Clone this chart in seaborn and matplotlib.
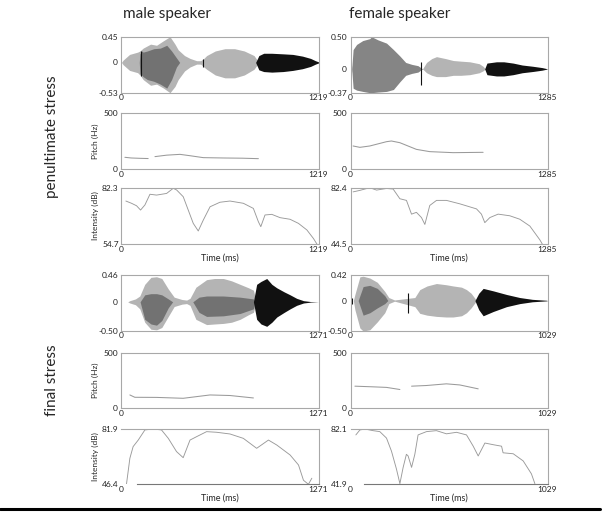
import matplotlib
matplotlib.use("Agg")
import matplotlib.pyplot as plt
import pandas as pd
import seaborn as sns
from matplotlib.lines import Line2D

sns.set_style("white")
plt.rcParams['font.family'] = ['Lato', 'DejaVu Sans']

# ---------------- data ----------------
# durations (ms)
mp_dur, fp_dur, mf_dur, ff_dur = 1219, 1285, 1271, 1029

# waveform y ranges / labels
mp_wave_ticks = [-0.53, 0, 0.45]
mp_wave_labels = ['-0.53', '0', '0.45']
fp_wave_ticks = [-0.37, 0, 0.50]
fp_wave_labels = ['-0.37', '0', '0.50']
mf_wave_ticks = [-0.50, 0, 0.46]
mf_wave_labels = ['-0.50', '0', '0.46']
ff_wave_ticks = [-0.50, 0, 0.42]
ff_wave_labels = ['-0.50', '0', '0.42']

# intensity ranges (dB)
mp_int_range = [54.7, 82.3]
fp_int_range = [44.5, 82.4]
mf_int_range = [46.4, 81.9]
ff_int_range = [41.9, 82.1]

# --- male speaker, penultimate stress: waveform envelopes
mp_light_t = [0, 10, 50, 100, 114, 134, 180, 217, 260, 300, 331, 351, 390, 424, 465, 490, 506, 527, 580, 640, 700, 760, 820, 850]
mp_light_hi = [0, 0.04, 0.14, 0.18, 0.2, 0.25, 0.32, 0.3, 0.38, 0.45, 0.32, 0.22, 0.12, 0.07, 0.03, 0.03, 0.06, 0.12, 0.2, 0.24, 0.24, 0.2, 0.12, 0]
mp_light_lo = [0, -0.04, -0.14, -0.18, -0.22, -0.3, -0.4, -0.38, -0.45, -0.53, -0.42, -0.3, -0.15, -0.08, -0.03, -0.03, -0.07, -0.12, -0.22, -0.27, -0.27, -0.22, -0.12, 0]
mp_dark_t = [110, 114, 125, 134, 160, 200, 240, 280, 310, 340, 360]
mp_dark_hi = [0, 0.15, 0.2, 0.18, 0.2, 0.24, 0.25, 0.3, 0.2, 0.08, 0]
mp_dark_lo = [0, -0.2, -0.22, -0.25, -0.3, -0.33, -0.38, -0.45, -0.3, -0.08, 0]
mp_black_t = [830, 850, 880, 930, 1000, 1060, 1120, 1170, 1200, 1219]
mp_black_hi = [0, 0.12, 0.16, 0.16, 0.15, 0.14, 0.11, 0.07, 0.03, 0.01]
mp_black_lo = [0, -0.13, -0.16, -0.17, -0.16, -0.14, -0.11, -0.07, -0.03, -0.01]
mp_spike_t, mp_spike_hi, mp_spike_lo = [120, 506], [0.2, 0.06], [-0.24, -0.08]

# --- female speaker, penultimate stress
fp_dark_t = [8, 17, 40, 80, 126, 137, 180, 235, 280, 322, 360, 400, 440, 470]
fp_dark_hi = [0, 0.3, 0.38, 0.44, 0.47, 0.5, 0.45, 0.4, 0.3, 0.2, 0.1, 0.07, 0.05, 0]
fp_dark_lo = [0, -0.3, -0.33, -0.35, -0.37, -0.37, -0.36, -0.35, -0.32, -0.2, -0.1, -0.07, -0.05, 0]
fp_light_t = [470, 496, 530, 561, 620, 670, 720, 778, 840, 865, 880]
fp_light_hi = [0, 0.1, 0.16, 0.19, 0.16, 0.13, 0.12, 0.11, 0.08, 0.04, 0]
fp_light_lo = [0, -0.06, -0.1, -0.12, -0.12, -0.1, -0.1, -0.09, -0.06, -0.03, 0]
fp_black_t = [875, 890, 952, 1000, 1061, 1120, 1191, 1250, 1278, 1285]
fp_black_hi = [0, 0.09, 0.11, 0.11, 0.09, 0.06, 0.04, 0.02, 0.005, 0]
fp_black_lo = [0, -0.09, -0.11, -0.11, -0.09, -0.06, -0.04, -0.02, -0.005, 0]
fp_spike_t, fp_spike_hi, fp_spike_lo = [5, 459], [0.05, 0.1], [-0.05, -0.25]

# --- male speaker, final stress
mf_light_t = [40, 54, 90, 118, 150, 190, 226, 260, 302, 340, 390, 420, 442, 480, 549, 600, 657, 710, 765, 820, 851, 870]
mf_light_hi = [0, 0.02, 0.05, 0.1, 0.3, 0.42, 0.43, 0.4, 0.22, 0.08, 0.04, 0.03, 0.06, 0.25, 0.38, 0.4, 0.4, 0.36, 0.3, 0.24, 0.2, 0]
mf_light_lo = [0, -0.02, -0.05, -0.12, -0.35, -0.47, -0.48, -0.44, -0.25, -0.08, -0.04, -0.03, -0.06, -0.3, -0.39, -0.38, -0.37, -0.35, -0.3, -0.22, -0.18, 0]
mf_dark_t = [120, 150, 190, 226, 260, 302, 330, 460, 500, 549, 657, 765, 851, 860]
mf_dark_hi = [0, 0.12, 0.14, 0.14, 0.12, 0.05, 0, 0, 0.08, 0.1, 0.1, 0.08, 0.05, 0]
mf_dark_lo = [0, -0.3, -0.38, -0.4, -0.32, -0.1, 0, 0, -0.18, -0.25, -0.24, -0.2, -0.12, 0]
mf_black_t = [851, 872, 900, 937, 970, 1002, 1050, 1088, 1130, 1174, 1220, 1271]
mf_black_hi = [0, 0.3, 0.35, 0.4, 0.3, 0.24, 0.17, 0.12, 0.06, 0.02, 0.005, 0]
mf_black_lo = [0, -0.3, -0.38, -0.42, -0.35, -0.26, -0.18, -0.12, -0.06, -0.02, -0.005, 0]
mf_spike_t, mf_spike_hi, mf_spike_lo = [], [], []

# --- female speaker, final stress
ff_light_t = [15, 23, 49, 66, 101, 140, 179, 200, 230, 336, 362, 400, 449, 500, 536, 580, 606, 630, 649, 660]
ff_light_hi = [0, 0.1, 0.39, 0.4, 0.37, 0.3, 0.15, 0.05, 0.01, 0.05, 0.18, 0.24, 0.28, 0.26, 0.24, 0.22, 0.18, 0.12, 0.04, 0]
ff_light_lo = [0, -0.15, -0.45, -0.5, -0.48, -0.35, -0.2, -0.05, -0.01, -0.1, -0.21, -0.24, -0.26, -0.27, -0.27, -0.25, -0.2, -0.12, -0.04, 0]
ff_dark_t = [40, 66, 101, 140, 179, 195]
ff_dark_hi = [0, 0.23, 0.25, 0.2, 0.08, 0]
ff_dark_lo = [0, -0.24, -0.2, -0.12, -0.05, 0]
ff_black_t = [650, 670, 693, 745, 815, 884, 950, 1024, 1029]
ff_black_hi = [0, 0.12, 0.2, 0.16, 0.1, 0.05, 0.02, 0.005, 0]
ff_black_lo = [0, -0.15, -0.25, -0.18, -0.1, -0.05, -0.02, -0.005, 0]
ff_spike_t, ff_spike_hi, ff_spike_lo = [8, 300], [0.05, 0.12], [-0.05, -0.2]

# pitch tracks (ms, Hz); seg = voiced stretch
mp_pitch_t = [21, 60, 114, 165, 207, 280, 362, 424, 506, 630, 750, 847]
mp_pitch_hz = [106, 100, 97, 95, 112, 125, 132, 120, 103, 100, 98, 94]
mp_pitch_seg = [0, 0, 0, 0, 1, 1, 1, 1, 1, 1, 1, 1]
fp_pitch_t = [17, 61, 126, 235, 267, 322, 430, 517, 670, 865]
fp_pitch_hz = [206, 194, 206, 244, 250, 235, 176, 156, 147, 150]
fp_pitch_seg = [0] * 10
mf_pitch_t = [54, 86, 226, 398, 571, 700, 851]
mf_pitch_hz = [120, 99, 98, 90, 120, 115, 93]
mf_pitch_seg = [0] * 7
ff_pitch_t = [23, 118, 188, 258, 319, 397, 501, 571, 667]
ff_pitch_hz = [199, 193, 188, 169, 199, 205, 220, 210, 175]
ff_pitch_seg = [0, 0, 0, 0, 1, 1, 1, 1, 1]

# intensity contours (ms, dB)
mp_int_t = [27, 62, 93, 118, 145, 176, 217, 279, 320, 341, 382, 413, 444, 475, 506, 548, 609, 671, 754, 816, 847, 862, 888, 930, 981, 1043, 1095, 1147, 1188, 1210]
mp_int_db = [75.8, 74.7, 73.5, 71.4, 73.9, 79.1, 78.7, 79.5, 82.0, 81.2, 77.9, 71.4, 64.9, 61.2, 66.5, 73.0, 75.2, 75.8, 74.7, 72.2, 65.7, 63.3, 69.0, 69.3, 67.7, 66.9, 64.9, 61.7, 57.5, 54.7]
fp_int_t = [17, 61, 126, 170, 235, 278, 322, 365, 398, 430, 463, 485, 517, 561, 626, 713, 822, 854, 876, 909, 963, 1039, 1104, 1170, 1235, 1252]
fp_int_db = [79.6, 80.6, 82.4, 80.8, 81.9, 81.5, 75.0, 73.9, 64.7, 65.9, 62.4, 57.8, 70.5, 73.9, 73.9, 71.6, 68.2, 64.7, 59.0, 62.4, 64.7, 63.6, 61.3, 56.7, 47.5, 44.5]
mf_int_t = [32, 54, 75, 108, 151, 205, 258, 302, 355, 398, 442, 485, 549, 614, 700, 786, 872, 948, 1002, 1088, 1142, 1174, 1206, 1228]
mf_int_db = [46.4, 63.1, 70.6, 74.8, 81.3, 81.9, 81.3, 75.9, 67.4, 63.5, 74.8, 77.0, 80.2, 79.8, 78.7, 75.9, 69.5, 74.8, 71.6, 65.2, 58.8, 49.0, 46.4, 50.3]
ff_int_t = [28, 49, 75, 118, 153, 188, 214, 240, 258, 275, 292, 301, 319, 336, 353, 397, 449, 501, 554, 606, 641, 667, 702, 745, 789, 797, 850, 902, 945, 963]
ff_int_db = [77.8, 81.4, 82.1, 80.9, 80.2, 75.5, 66.0, 53.0, 42.4, 54.2, 63.7, 62.5, 54.2, 63.7, 77.8, 80.2, 80.9, 78.6, 79.7, 77.8, 69.6, 62.5, 71.9, 70.7, 69.6, 64.8, 64.1, 58.9, 49.5, 42.4]

# ---------------- figure ----------------
W, H = 605, 513
fig = plt.figure(figsize=(W / 100, H / 100), dpi=100)

col_x = [121.5, 350.5]
col_w = 197
rows_y = [[36.7, 92.7], [112.7, 169.3], [187.7, 244.3],
          [275.0, 331.0], [352.7, 408.3], [429.0, 484.3]]

light_c, dark_c, black_c = '#b4b4b4', '#727272', '#111111'
spine_c = '#a8a8a8'
line_c = '#9a9a9a'
tick_fs = 6


def make_ax(col, row):
    x0 = col_x[col]
    top, bot = rows_y[row]
    return fig.add_axes([x0 / W, 1 - bot / H, col_w / W, (bot - top) / H])


def style(ax, dur, yticks, ylabels):
    ax.set_xlim(0, dur)
    ax.set_ylim(yticks[0], yticks[-1])
    ax.set_xticks([0, dur])
    ax.set_xticklabels(['0', str(dur)])
    ax.set_yticks(yticks)
    ax.set_yticklabels(ylabels)
    for s in ax.spines.values():
        s.set_color(spine_c)
        s.set_linewidth(0.8)
    ax.tick_params(axis='x', length=0, pad=1, labelsize=tick_fs, colors='#222222')
    ax.tick_params(axis='y', length=2, width=0.6, color=spine_c, pad=0.5,
                   labelsize=tick_fs, colors='#222222')
    ax.set_xlabel('')
    ax.set_ylabel('')


def wave(ax, dur, ticks, labels, layers, spikes):
    for (t, hi, lo), c in layers:
        ax.fill_between(t, lo, hi, color=c, lw=0)
    st, sh, sl = spikes
    if st:
        ax.vlines(st, sl, sh, color=black_c, lw=0.8)
    style(ax, dur, ticks, labels)


def pitch(ax, dur, t, hz, seg, ylab):
    df = pd.DataFrame({'t': t, 'hz': hz, 'seg': seg})
    sns.lineplot(data=df, x='t', y='hz', units='seg', estimator=None,
                 color=line_c, lw=0.75, ax=ax)
    style(ax, dur, [0, 500], ['0', '500'])
    if ylab:
        ax.set_ylabel('Pitch (Hz)', fontsize=6)
        ax.yaxis.set_label_coords(-0.115, 0.5)


def intensity(ax, dur, t, db, rng, ylab, bottom_start=None):
    df = pd.DataFrame({'t': t, 'db': db})
    sns.lineplot(data=df, x='t', y='db', color=line_c, lw=0.65, ax=ax)
    style(ax, dur, rng, [f'{v:.1f}' for v in rng])
    ax.tick_params(axis='y', length=0, pad=2)
    if bottom_start is not None:
        ax.spines['bottom'].set_bounds(bottom_start, dur)
        ax.spines['bottom'].set_color('#777777')
        ax.spines['left'].set_visible(False)
    ax.set_xlabel('Time (ms)', fontsize=6.5)
    ax.xaxis.set_label_coords(0.5, -0.17)
    if ylab:
        ax.set_ylabel('Intensity (dB)', fontsize=6)
        ax.yaxis.set_label_coords(-0.115, 0.5)


panels = [
    (0, 0, mp_dur, mp_wave_ticks, mp_wave_labels,
     [((mp_light_t, mp_light_hi, mp_light_lo), light_c),
      ((mp_dark_t, mp_dark_hi, mp_dark_lo), dark_c),
      ((mp_black_t, mp_black_hi, mp_black_lo), black_c)],
     (mp_spike_t, mp_spike_hi, mp_spike_lo),
     (mp_pitch_t, mp_pitch_hz, mp_pitch_seg), (mp_int_t, mp_int_db, mp_int_range), None),
    (1, 0, fp_dur, fp_wave_ticks, fp_wave_labels,
     [((fp_dark_t, fp_dark_hi, fp_dark_lo), '#858585'),
      ((fp_light_t, fp_light_hi, fp_light_lo), light_c),
      ((fp_black_t, fp_black_hi, fp_black_lo), black_c)],
     (fp_spike_t, fp_spike_hi, fp_spike_lo),
     (fp_pitch_t, fp_pitch_hz, fp_pitch_seg), (fp_int_t, fp_int_db, fp_int_range), None),
    (0, 3, mf_dur, mf_wave_ticks, mf_wave_labels,
     [((mf_light_t, mf_light_hi, mf_light_lo), light_c),
      ((mf_dark_t, mf_dark_hi, mf_dark_lo), dark_c),
      ((mf_black_t, mf_black_hi, mf_black_lo), black_c)],
     (mf_spike_t, mf_spike_hi, mf_spike_lo),
     (mf_pitch_t, mf_pitch_hz, mf_pitch_seg), (mf_int_t, mf_int_db, mf_int_range), 97),
    (1, 3, ff_dur, ff_wave_ticks, ff_wave_labels,
     [((ff_light_t, ff_light_hi, ff_light_lo), light_c),
      ((ff_dark_t, ff_dark_hi, ff_dark_lo), dark_c),
      ((ff_black_t, ff_black_hi, ff_black_lo), black_c)],
     (ff_spike_t, ff_spike_hi, ff_spike_lo),
     (ff_pitch_t, ff_pitch_hz, ff_pitch_seg), (ff_int_t, ff_int_db, ff_int_range), 70),
]

for col, row0, dur, wt, wl, layers, spikes, pt, it, bstart in panels:
    wave(make_ax(col, row0), dur, wt, wl, layers, spikes)
    pitch(make_ax(col, row0 + 1), dur, *pt, ylab=(col == 0))
    intensity(make_ax(col, row0 + 2), dur, *it, ylab=(col == 0), bottom_start=bstart)

# headers and row labels
fig.text(167 / W, 1 - 14 / H, 'male speaker', ha='center', va='center', fontsize=11)
fig.text(400 / W, 1 - 14 / H, 'female speaker', ha='center', va='center', fontsize=11)
fig.text(52 / W, 1 - 137 / H, 'penultimate stress', rotation=90, ha='center', va='center', fontsize=11)
fig.text(52 / W, 1 - 380 / H, 'final stress', rotation=90, ha='center', va='center', fontsize=11)

fig.add_artist(Line2D([0, 600 / W], [1 - 508.5 / H] * 2, transform=fig.transFigure,
                      color='black', lw=2.2))

fig.savefig('out.png', dpi=100)
